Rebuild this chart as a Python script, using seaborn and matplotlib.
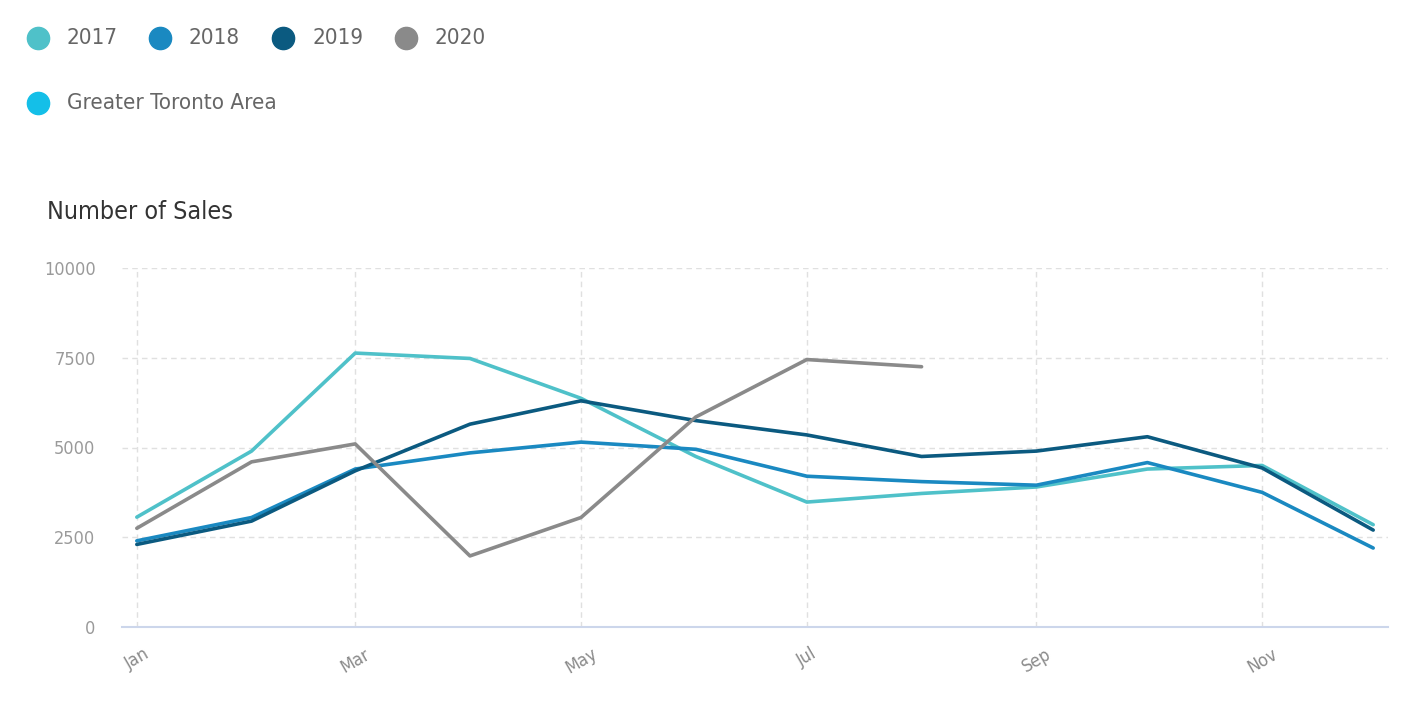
import pandas as pd
import numpy as np
import matplotlib
matplotlib.use('Agg')
import matplotlib.pyplot as plt
import matplotlib.dates as mdates
from matplotlib.lines import Line2D
from matplotlib import font_manager
import seaborn as sns

# monthly sales (2020 only runs to August)
months = pd.date_range('2019-01-01', periods=12, freq='MS')
sales_2017 = [3060, 4900, 7630, 7480, 6370, 4750, 3480, 3720, 3900, 4400, 4500, 2850]
sales_2018 = [2400, 3050, 4400, 4850, 5150, 4950, 4200, 4050, 3950, 4580, 3750, 2200]
sales_2019 = [2300, 2950, 4350, 5650, 6300, 5750, 5350, 4750, 4900, 5300, 4430, 2700]
sales_2020 = [2750, 4600, 5100, 1980, 3050, 5850, 7450, 7250]

years = ['2017', '2018', '2019', '2020']
colors = {'2017': '#4fc1c9', '2018': '#1a89c1', '2019': '#0b5a80', '2020': '#8a8a8a'}
region = 'Greater Toronto Area'
region_color = '#14bfe8'

frames = []
for yr, vals in zip(years, [sales_2017, sales_2018, sales_2019, sales_2020]):
    frames.append(pd.DataFrame({'month': months[:len(vals)], 'sales': vals, 'year': yr}))
df = pd.concat(frames, ignore_index=True)

sns.set_style('white')
plt.rcParams['font.family'] = ['DejaVu Sans']
plt.rcParams['font.stretch'] = 'condensed'
print(sorted({(f.name, f.stretch) for f in font_manager.fontManager.ttflist}))

fig = plt.figure(figsize=(14.05, 7.10), dpi=100)
ax = fig.add_axes([122 / 1405, 1 - 627 / 710, (1388 - 122) / 1405, (627 - 268) / 710])

sns.lineplot(data=df, x='month', y='sales', hue='year', palette=colors,
             linewidth=2.6, legend=False, ax=ax, estimator=None, sort=False)

ax.set_ylim(0, 10000)
ax.set_yticks([0, 2500, 5000, 7500, 10000])
ax.set_xlim(pd.Timestamp('2018-12-28'), pd.Timestamp('2019-12-05'))
ax.set_xticks(months[::2])
ax.xaxis.set_major_formatter(mdates.DateFormatter('%b'))
ax.set_xlabel('')
ax.set_ylabel('')

ax.grid(True, linestyle=(0, (4, 3)), color='#e0e0e0', linewidth=1)
for s in ['top', 'right', 'left']:
    ax.spines[s].set_visible(False)
ax.spines['bottom'].set_color('#ccd6eb')
ax.spines['bottom'].set_linewidth(1.5)

ax.tick_params(axis='y', length=0, pad=19, labelsize=13, labelcolor='#9a9a9a')
ax.tick_params(axis='x', length=7, width=1.2, color='#ccd6eb', pad=6,
               labelsize=13, labelcolor='#8a8a8a')
for lab in ax.get_xticklabels():
    lab.set_rotation(30)
    lab.set_ha('center')
    lab.set_va('top')
    lab.set_rotation_mode('default')

# title
fig.text(47 / 1405, 1 - 212 / 710, 'Number of Sales', fontsize=18,
         color='#333333', va='center', ha='left')

# legend drawn by hand: years in one row, region below
legend_x = [38, 160, 283, 406]
for yr, x in zip(years, legend_x):
    fig.add_artist(Line2D([x / 1405], [1 - 38 / 710], marker='o', markersize=16,
                          color=colors[yr], linestyle='none', transform=fig.transFigure))
    fig.text((x + 29) / 1405, 1 - 38 / 710, yr, fontsize=16, color='#666666',
             va='center', ha='left')
fig.add_artist(Line2D([38 / 1405], [1 - 103 / 710], marker='o', markersize=16,
                      color=region_color, linestyle='none', transform=fig.transFigure))
fig.text(67 / 1405, 1 - 103 / 710, region, fontsize=16, color='#666666',
         va='center', ha='left')

fig.savefig('out.png', dpi=100)
